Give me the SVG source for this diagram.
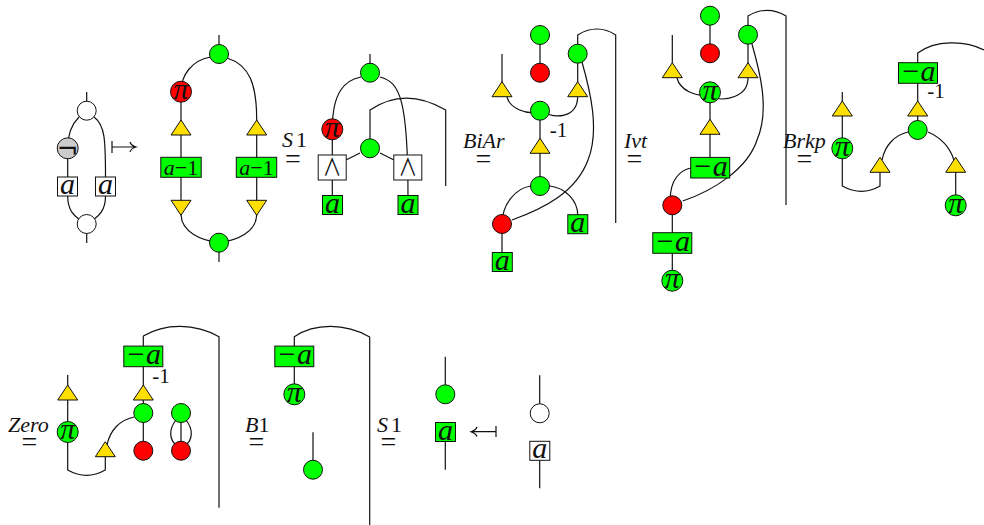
<svg xmlns="http://www.w3.org/2000/svg" width="984" height="525" viewBox="0 0 984 525">
<style>
.w{fill:none;stroke:#111;stroke-width:1.2}
.c{stroke:#111;stroke-width:1}
.g{fill:#0f0}.r{fill:#f00}.o{fill:#fff}.y{fill:#ffdf00}.k{fill:#ccc}
text{font-family:"Liberation Serif","Times New Roman",serif;fill:#111;text-anchor:middle}
.a{font-size:30px;font-style:italic}
.s{font-size:22px}
.p{font-size:30px;font-style:italic}
.l{font-size:22px;font-style:italic;text-anchor:start}
.e{font-size:28px}
.m{font-size:21px}
.d{font-family:"Noto Sans CJK JP",sans-serif;font-weight:400;font-size:24px}
.n{font-family:"DejaVu Sans",sans-serif;font-size:26px}
</style>
<defs>
<path id="up" class="c y" d="M0,0L10,15H-10Z"/>
<path id="dn" class="c y" d="M0,15L10,0H-10Z"/>
<circle id="cg" class="c g" r="9.5"/>
<circle id="cr" class="c r" r="9.5"/>
<circle id="cw" class="c o" r="9.5"/>
<circle id="pg" class="c g" r="10.5"/>
<circle id="pr" class="c r" r="10.5"/>
<rect id="ag" class="c g" x="-10" y="-9.5" width="20" height="19"/>
<rect id="aw" class="c o" x="-10" y="-9.5" width="20" height="19"/>
<rect id="mg" class="c g" x="-19.5" y="-10.3" width="39" height="20.6"/>
<rect id="og" class="c g" x="-20.2" y="-10" width="40.4" height="20"/>
<rect id="we" class="c o" x="-14" y="-12.5" width="28" height="25"/>
</defs>
<g id="connectors" class="w">
<path d="M86.7,92V110M79,117C72,124 67.7,135 67.7,148V196C67.7,212 76,217 80,220M94,117C105,125 105.500,140 105.500,177V196C105.500,212 97,217 93,220M86.700,224V243"/>
<path d="M219,35V54M211,57C192,60 181,75 181,92V215C182,232 200,240 219,242.700M227,58C250,65 256.700,85 256.700,120V215C256,232 238,240 219,242.700V262"/>
<path d="M370,54V73M361,77C345,80 332.300,92 332.300,129V196M380,77C400,82 408,100 408,196M370,148V110C395,93 420,95 445.700,110V186M360,153L346,160M380,153L394,160"/>
<path d="M540,35V73M502,54V82M577.700,54V82M577.700,54V35C590,27 604,27 615.700,35V223M507,97C510,108 525,115 540,112M540,110C555,120 577,118 577.700,97M540,110V186M531,186C515,188 502,205 502,224V252M550,186C565,188 577.700,200 577.700,215M581.700,61C590,90 600,130 588,160C576,192 545,208 512,220"/>
<path d="M710,16V53M672.300,35V63M748,35V63M748,35V16C760,8.500 774,8.500 786,16V205M677,78C680,90 695,97 710,95M710,97C725,102 748,97 748,78M710,92V157M691,168C680,170 670,180 670.300,200M672.300,205V280M751.700,43C760,72 770,110 757,140C748,168 715,190 682.700,201"/>
<path d="M842.300,92V186C855,193 868,193 880,186V172M917.700,130V53C935,40 965,40 984,50M908,132C895,135 885,145 882,160M928,132C942,138 950,148 954,160M955.700,172V205"/>
<path d="M67.700,375V470C80,477 93,477 105.300,470V456M134,417C120,420 110,430 107,445M143.300,336V450M143.300,336C165,323 195,323 219,336.700V507.700M181,413V450M176,420C168,430 170,440 176,445M186,420C194,430 192,440 186,445"/>
<path d="M294.300,394V336.700C315,323 345,323 369.700,337V525M313,432.300V470M445.300,356.700V394M445.300,432V469.700M539.700,375.300V413M539.700,451V488.300"/>
<path d="M112,141V153M112,147H135M130,142Q131,145.500 136,147Q131,148.500 130,152"/>
<path d="M496,426V437M472,431.700H496M477,427Q476,430 471,431.700Q476,433.500 477,436.500"/>
</g>
<g id="n1"><use href="#cw" x="86.700" y="110.700"/></g>
<g id="n2"><circle class="c k" cx="67.700" cy="148.300" r="10.500"/><text class="n" x="67.700" y="158">¬</text></g>
<g id="n3"><use href="#aw" x="67.500" y="186.500"/><text class="a" x="67.500" y="194">a</text></g>
<g id="n4"><use href="#aw" x="105.500" y="186.500"/><text class="a" x="105.500" y="194">a</text></g>
<g id="n5"><use href="#cw" x="86.700" y="224"/></g>
<g id="n6"><use href="#cg" x="219" y="54"/></g>
<g id="n7"><use href="#pr" x="181" y="91.700"/><text class="p" x="181" y="99">π</text></g>
<g id="n8"><use href="#up" x="181" y="120"/></g>
<g id="n9"><use href="#up" x="256.700" y="120"/></g>
<g id="n10"><use href="#og" x="181" y="167.300"/><text class="s" x="181" y="174.500"><tspan font-style="italic">a</tspan>−1</text></g>
<g id="n11"><use href="#og" x="256.500" y="167.300"/><text class="s" x="256.500" y="174.500"><tspan font-style="italic">a</tspan>−1</text></g>
<g id="n12"><use href="#dn" x="181" y="200.300"/></g>
<g id="n13"><use href="#dn" x="256.700" y="200.300"/></g>
<g id="n14"><use href="#cg" x="219" y="242.700"/></g>
<g id="n15"><use href="#cg" x="370" y="72.700"/></g>
<g id="n16"><use href="#pr" x="332.300" y="129.300"/><text class="p" x="332.300" y="136.500">π</text></g>
<g id="n17"><use href="#we" x="332.200" y="167.500"/><text class="d" transform="translate(332.200,176) scale(.78,1)">∧</text></g>
<g id="n18"><use href="#we" x="407.800" y="167.500"/><text class="d" transform="translate(407.800,176) scale(.78,1)">∧</text></g>
<g id="n19"><use href="#cg" x="370" y="148.300"/></g>
<g id="n20"><use href="#ag" x="332.500" y="205"/><text class="a" x="332.500" y="212.500">a</text></g>
<g id="n21"><use href="#ag" x="408" y="205"/><text class="a" x="408" y="212.500">a</text></g>
<g id="n22"><use href="#cg" x="540" y="35"/></g>
<g id="n23"><use href="#cr" x="540" y="72.700"/></g>
<g id="n24"><use href="#cg" x="577.700" y="53.700"/></g>
<g id="n25"><use href="#up" x="502" y="81.700"/></g>
<g id="n26"><use href="#up" x="577.700" y="81.700"/></g>
<g id="n27"><use href="#cg" x="540" y="110.700"/></g>
<g id="n28"><use href="#up" x="540" y="138.300"/></g>
<g id="n29"><use href="#cg" x="540" y="186"/></g>
<g id="n30"><use href="#cr" x="502" y="224"/></g>
<g id="n31"><use href="#ag" x="577.800" y="224.200"/><text class="a" x="577.800" y="231.500">a</text></g>
<g id="n32"><use href="#ag" x="502.300" y="262"/><text class="a" x="502.300" y="269.500">a</text></g>
<g id="n33"><use href="#cg" x="710" y="15.700"/></g>
<g id="n34"><use href="#cr" x="710" y="53.300"/></g>
<g id="n35"><use href="#cg" x="748" y="34.700"/></g>
<g id="n36"><use href="#up" x="672.300" y="62.700"/></g>
<g id="n37"><use href="#up" x="748" y="62.700"/></g>
<g id="n38"><use href="#pg" x="710" y="92.300"/><text class="p" x="710" y="99.500">π</text></g>
<g id="n39"><use href="#up" x="710" y="119.300"/></g>
<g id="n40"><use href="#mg" x="710.200" y="167.700"/><text class="a" x="710.200" y="175.500">−a</text></g>
<g id="n41"><use href="#cr" x="672.300" y="205.300"/></g>
<g id="n42"><use href="#mg" x="672.300" y="243"/><text class="a" x="672.300" y="250.800">−a</text></g>
<g id="n43"><use href="#pg" x="672.300" y="280.700"/><text class="p" x="672.300" y="288">π</text></g>
<g id="n44"><use href="#up" x="842.300" y="101"/></g>
<g id="n45"><use href="#pg" x="842.300" y="148.300"/><text class="p" x="842.300" y="155.500">π</text></g>
<g id="n46"><use href="#up" x="880" y="157.300"/></g>
<g id="n47"><use href="#cg" x="917.700" y="130"/></g>
<g id="n48"><use href="#up" x="917.700" y="101"/></g>
<g id="n49"><use href="#mg" x="918" y="73"/><text class="a" x="918" y="80.800">−a</text></g>
<g id="n50"><use href="#up" x="955.700" y="157.300"/></g>
<g id="n51"><use href="#pg" x="955.700" y="205.300"/><text class="p" x="955.700" y="212.500">π</text></g>
<g id="n52"><use href="#up" x="67.700" y="385"/></g>
<g id="n53"><use href="#pg" x="67.700" y="432"/><text class="p" x="67.700" y="439.300">π</text></g>
<g id="n54"><use href="#up" x="105.300" y="441.700"/></g>
<g id="n55"><use href="#mg" x="143.300" y="356.400"/><text class="a" x="143.300" y="364.200">−a</text></g>
<g id="n56"><use href="#up" x="143.300" y="385"/></g>
<g id="n57"><use href="#cg" x="143.300" y="413"/></g>
<g id="n58"><use href="#cr" x="143.300" y="450.700"/></g>
<g id="n59"><use href="#cg" x="181" y="413"/></g>
<g id="n60"><use href="#cr" x="181" y="450.700"/></g>
<g id="n61"><use href="#mg" x="294.300" y="356.400"/><text class="a" x="294.300" y="364.200">−a</text></g>
<g id="n62"><use href="#pg" x="294.300" y="394.300"/><text class="p" x="294.300" y="401.500">π</text></g>
<g id="n63"><use href="#cg" x="313" y="469.700"/></g>
<g id="n64"><use href="#cg" x="445.300" y="394.300"/></g>
<g id="n65"><use href="#ag" x="445.500" y="432"/><text class="a" x="445.500" y="439.500">a</text></g>
<g id="n66"><use href="#cw" x="539.700" y="413.300"/></g>
<g id="n67"><use href="#aw" x="539.800" y="450.800"/><text class="a" x="539.800" y="458.300">a</text></g>
<g id="labels">
<text class="m" x="558.500" y="137">-1</text>
<text class="m" x="936" y="98">-1</text>
<text class="m" x="161" y="383">-1</text>
<text class="l" x="282" y="147">S<tspan font-style="normal" dx="3">1</tspan></text>
<text class="e" x="293" y="167.500">=</text>
<text class="l" x="463" y="148">BiAr</text>
<text class="e" x="483.400" y="167.500">=</text>
<text class="l" x="624" y="148">Ivt</text>
<text class="e" x="634.400" y="167.500">=</text>
<text class="l" x="783" y="148">Brkp</text>
<text class="e" x="804.400" y="167.500">=</text>
<text class="l" x="8" y="431.700">Zero</text>
<text class="e" x="29.500" y="450.500">=</text>
<text class="l" x="245" y="431.700" font-size="20">B<tspan font-style="normal">1</tspan></text>
<text class="e" x="256.500" y="450.500">=</text>
<text class="l" x="377" y="431.700">S<tspan font-style="normal" dx="3">1</tspan></text>
<text class="e" x="388.500" y="450.500">=</text>
</g>
</svg>
